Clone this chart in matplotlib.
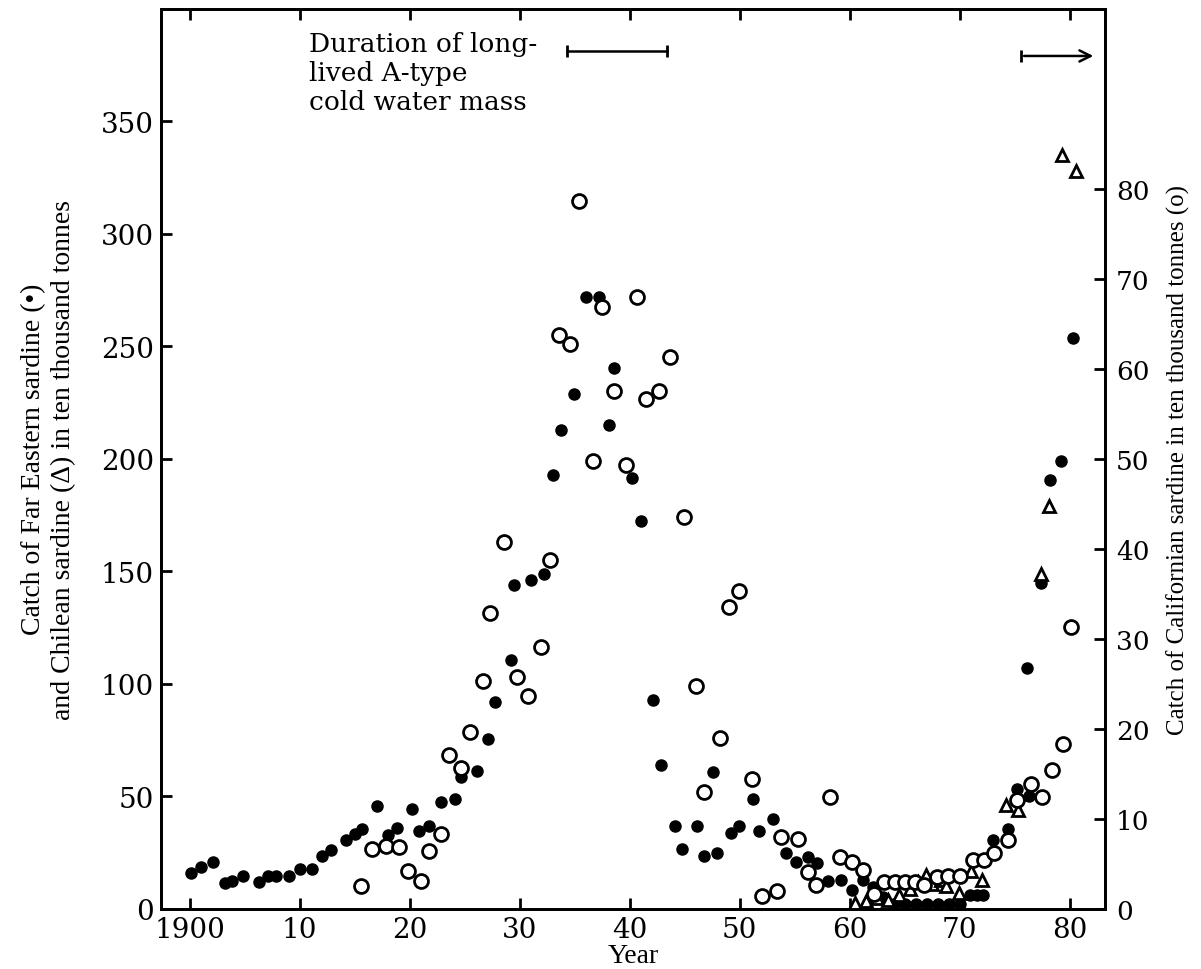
import matplotlib
matplotlib.use('Agg')
import matplotlib.pyplot as plt
import numpy as np

plt.rcParams['font.family'] = ['Liberation Serif', 'DejaVu Serif']

# Far Eastern sardine (filled circles), ten thousand tonnes, left axis
fe_year = [1900.1, 1901.0, 1902.1, 1903.2, 1903.9, 1904.9, 1906.3, 1907.1, 1907.9, 1909.0,
           1910.0, 1911.1, 1912.0, 1912.9, 1914.2, 1915.0, 1915.7, 1917.0, 1918.0, 1918.9,
           1920.2, 1920.9, 1921.8, 1922.9, 1924.1, 1924.7, 1926.1, 1927.1, 1927.8, 1929.2,
           1929.5, 1931.0, 1932.2, 1933.0, 1933.8, 1934.9, 1936.0, 1937.2, 1938.1, 1938.6,
           1940.2, 1941.0, 1942.1, 1942.85, 1944.1, 1944.8, 1946.1, 1946.8, 1947.6, 1947.9,
           1949.2, 1949.9, 1951.2, 1951.8, 1953.0, 1954.2, 1955.1, 1956.2, 1957.0, 1958.0,
           1959.2, 1960.2, 1961.2, 1962.1, 1963.0, 1964.0, 1965.0, 1966.0, 1967.0, 1968.0,
           1969.0, 1970.0, 1970.9, 1971.6, 1972.1, 1973.0, 1974.4, 1975.2, 1976.1, 1976.3,
           1977.4, 1978.2, 1979.2, 1980.3]
fe_catch = [16, 18.5, 20.7, 11.5, 12.6, 14.8, 11.8, 14.8, 14.5, 14.8,
            17.5, 17.5, 23.4, 26.2, 30.8, 33.3, 35.3, 45.9, 32.6, 35.9,
            44.4, 34.4, 36.7, 47.4, 48.9, 58.8, 61.2, 75.4, 91.9, 110.5,
            143.7, 146, 149, 192.6, 212.6, 228.6, 272.1, 272.1, 215.1, 240.4,
            191.4, 172.3, 92.9, 64, 36.6, 26.4, 36.7, 23.4, 60.7, 24.9,
            33.9, 37, 48.6, 34.8, 40, 24.7, 21, 22.9, 20.6, 12.6,
            12.9, 8.4, 12.9, 9.6, 5.2, 2.2, 2, 2, 2, 2,
            2, 2.2, 6.2, 6.2, 6.2, 30.7, 35.3, 53.3, 107, 50.1,
            145, 190.4, 198.8, 253.6]

# Chilean sardine (open triangles), left axis
ch_year = [1960.5, 1961.5, 1962.5, 1963.5, 1964.5, 1965.5, 1966.2, 1966.9, 1967.5, 1968.3,
           1968.8, 1969.9, 1971.0, 1972.0, 1974.2, 1975.3, 1977.4, 1978.1, 1979.3, 1980.6]
ch_catch = [2.5, 3.5, 5, 4, 6, 9, 12, 15, 11, 13,
            10, 7, 17, 13, 46, 44, 149, 179, 335, 328]

# Californian sardine (open circles), right axis
ca_year = [1915.6, 1916.6, 1917.9, 1919.0, 1919.85, 1921.0, 1921.8, 1922.9, 1923.6, 1924.7,
           1925.5, 1926.7, 1927.3, 1928.6, 1929.75, 1930.8, 1931.9, 1932.8, 1933.6, 1934.6,
           1935.4, 1936.7, 1937.5, 1938.6, 1939.7, 1940.7, 1941.5, 1942.7, 1943.7, 1944.9,
           1946.0, 1946.8, 1948.2, 1949.0, 1949.9, 1951.1, 1952.0, 1953.4, 1953.8, 1955.3,
           1956.2, 1956.9, 1958.2, 1959.1, 1960.2, 1961.2, 1962.2, 1963.1, 1964.1, 1965.0,
           1965.9, 1966.8, 1967.9, 1968.9, 1970.0, 1971.2, 1972.2, 1973.1, 1974.4, 1975.2,
           1976.5, 1977.5, 1978.4, 1979.4, 1980.1]
ca_catch = [2.5, 6.7, 7.0, 6.85, 4.26, 3.1, 6.4, 8.3, 17.1, 15.6,
            19.6, 25.3, 32.9, 40.7, 25.8, 23.7, 29.1, 38.7, 63.7, 62.8,
            78.6, 49.7, 66.9, 57.5, 49.3, 68.0, 56.6, 57.5, 61.3, 43.5,
            24.8, 13.0, 19.0, 33.5, 35.3, 14.4, 1.4, 2.0, 8.0, 7.8,
            4.1, 2.7, 12.4, 5.8, 5.2, 4.3, 1.6, 3.0, 3.0, 3.0,
            3.0, 2.6, 3.5, 3.7, 3.7, 5.4, 5.4, 6.2, 7.6, 12.1,
            13.9, 12.4, 15.4, 18.3, 31.3]

# cold water mass periods (years)
cold_period1 = (1934.3, 1943.4)
cold_period2 = (1975.6, 1982.4)

x_ticks = [1900, 1910, 1920, 1930, 1940, 1950, 1960, 1970, 1980]
x_labels = ['1900', '10', '20', '30', '40', '50', '60', '70', '80']

tick_font = 'DejaVu Serif'

fig = plt.figure(figsize=(12.01, 9.70), dpi=100)
ax = fig.add_axes([0.134, 0.062, 0.786, 0.928])
ax2 = ax.twinx()

ax.plot(fe_year, fe_catch, 'o', color='black', markersize=8, zorder=3)
ax.plot(ch_year, ch_catch, '^', mfc='white', mec='black', mew=2, markersize=8, zorder=4)
ax2.plot(ca_year, ca_catch, 'o', mfc='white', mec='black', mew=2, markersize=10, zorder=2)

ax.set_xlim(1897.4, 1983.2)
ax.set_ylim(0, 400)
ax2.set_ylim(0, 100)

ax.set_xticks(x_ticks)
ax.set_xticklabels(x_labels, family=tick_font)
ax.set_yticks(np.arange(0, 351, 50))
ax.set_yticklabels([str(v) for v in range(0, 351, 50)], family=tick_font)
ax2.set_yticks(np.arange(0, 81, 10))
ax2.set_yticklabels([str(v) for v in range(0, 81, 10)], family=tick_font)

ax.tick_params(axis='both', direction='in', length=8, width=2, labelsize=20,
               top=True, pad=5)
ax2.tick_params(axis='y', direction='in', length=8, width=2, labelsize=19, pad=8)
for sp in ax.spines.values():
    sp.set_linewidth(2)
for sp in ax2.spines.values():
    sp.set_linewidth(2)

ax.set_xlabel('Year', fontsize=20, labelpad=0)
ax.set_ylabel('Catch of Far Eastern sardine (•)\nand Chilean sardine (Δ) in ten thousand tonnes',
              fontsize=20, linespacing=1.25, labelpad=18)
ax2.set_ylabel('Catch of Californian sardine in ten thousand tonnes (o)', fontsize=18, labelpad=12)

# annotation
ax.text(1910.9, 390, 'Duration of long-\nlived A-type\ncold water mass', fontsize=19,
        family=tick_font, va='top', ha='left', linespacing=1.2)
ax.plot(cold_period1, [381, 381], color='black', lw=1.8, marker='|', markersize=8, mew=2)
ax.annotate('', xy=(cold_period2[1], 379), xytext=(cold_period2[0], 379),
            arrowprops=dict(arrowstyle='->', lw=1.8, color='black', mutation_scale=20))
ax.plot([cold_period2[0]], [379], marker='|', color='black', markersize=8, mew=2)

fig.savefig('out.png', dpi=100)
